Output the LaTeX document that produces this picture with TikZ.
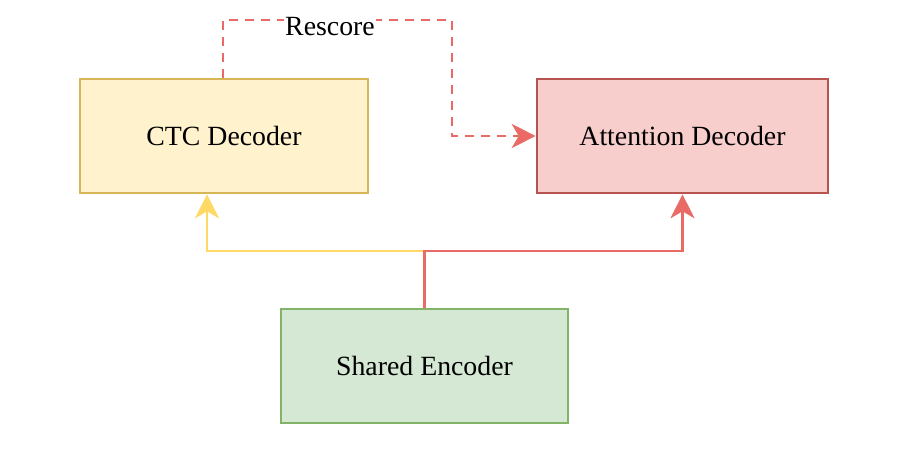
\documentclass[tikz,border=0pt]{standalone}
\usepackage{fontspec}
\setmainfont{Liberation Serif}
\usetikzlibrary{arrows.meta}

\definecolor{ctcfill}{HTML}{FFF2CC}
\definecolor{ctcline}{HTML}{D6B656}
\definecolor{attfill}{HTML}{F8CECC}
\definecolor{attline}{HTML}{B85450}
\definecolor{encfill}{HTML}{D5E8D4}
\definecolor{encline}{HTML}{82B366}
\definecolor{yellowarrow}{HTML}{FFD966}
\definecolor{redarrow}{HTML}{EA6B66}

\begin{document}
\begin{tikzpicture}[x=1pt, y=-1pt,
  font=\fontsize{27.8}{33}\selectfont,
  block/.style={draw, line width=2.6pt, minimum height=114pt, inner sep=0pt},
  link/.style={line width=2.4pt, -{Stealth[length=24pt, width=24pt, inset=7pt]}},
  rescore/.style={link, redarrow, dash pattern=on 9pt off 7pt}]
\useasboundingbox (0,0) rectangle (906,470);

\node[block, fill=ctcfill, draw=ctcline, minimum width=288pt] (ctc) at (224,136) {CTC Decoder};
\node[block, fill=attfill, draw=attline, minimum width=291pt] (att) at (682.5,136) {Attention Decoder};
\node[block, fill=encfill, draw=encline, minimum width=287pt] (enc) at (424.5,366) {Shared Encoder};

% encoder feeds both decoders
\coordinate (yl) at (207,251);
\coordinate (rd) at (682.5,251);
\draw[link, yellowarrow] (enc.north) |- (yl) -- (yl |- ctc.south);
\draw[link, redarrow] (enc.north) |- (rd) -- (att.south);

% ctc hypotheses rescored by attention
\coordinate (r1) at (223,20);
\coordinate (r2) at (452,20);
\draw[rescore] (r1 |- ctc.north) -- (r1) -- (r2) |- (att.west);
\node[fill=white, inner sep=1pt] (lbl) at (330,26.5) {Rescore};
\end{tikzpicture}
\end{document}
